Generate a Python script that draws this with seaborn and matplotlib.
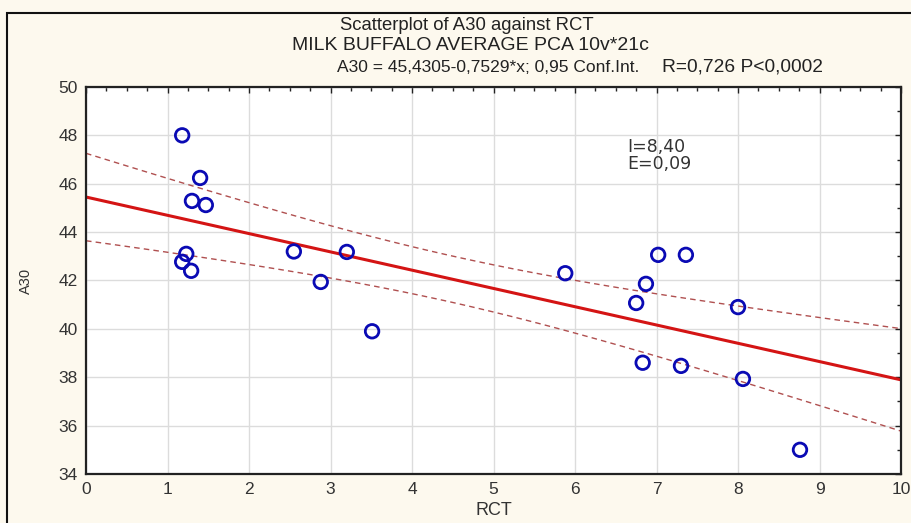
import numpy as np
import matplotlib
matplotlib.use("Agg")
from matplotlib import pyplot as plt
from matplotlib.patches import Rectangle
from matplotlib.ticker import MultipleLocator
import seaborn as sns

# values
rct = [1.18, 1.40, 1.30, 1.47, 1.23, 1.18, 1.29, 2.55, 2.88, 3.20, 3.51,
       5.88, 6.75, 6.87, 7.02, 7.36, 6.83, 7.30, 8.00, 8.06, 8.76]
a30 = [48.0, 46.24, 45.29, 45.12, 43.1, 42.77, 42.4, 43.2, 41.94, 43.18, 39.9,
       42.3, 41.07, 41.86, 43.06, 43.06, 38.6, 38.47, 40.9, 37.93, 35.0]

title_lines = ["Scatterplot of A30 against RCT",
               "MILK BUFFALO AVERAGE PCA 10v*21c"]
eq_text = "A30 = 45,4305-0,7529*x; 0,95 Conf.Int."
r_text = "R=0,726 P<0,0002"
note_text = "I=8,40\nE=0,09"

sns.set_style("white")
plt.rcParams['font.family'] = ['Liberation Sans', 'DejaVu Sans']

x = np.array(rct)
y = np.array(a30)
n = len(x)

# least squares fit and 95% confidence band for the mean
slope, intercept = np.polyfit(x, y, 1)
xs = np.linspace(0, 10, 101)
fit = intercept + slope * xs
resid = y - (intercept + slope * x)
s = np.sqrt(np.sum(resid ** 2) / (n - 2))
sxx = np.sum((x - x.mean()) ** 2)
t = 2.093
half = t * s * np.sqrt(1.0 / n + (xs - x.mean()) ** 2 / sxx)

bg = "#fdf9ee"
fig = plt.figure(figsize=(9.12, 5.23), dpi=100, facecolor=bg)
ax = fig.add_axes([0.0943, 0.0937, 0.8937, 0.74])
ax.set_facecolor("white")

# outer frame
fig.patches.append(Rectangle((7 / 912, -0.2), 1.2, 1.2 - 13 / 523,
                             transform=fig.transFigure, fill=False,
                             edgecolor="#111111", linewidth=1.5))

ax.grid(True, color="#dcdcdc", linewidth=1.0)
ax.set_axisbelow(True)

sns.lineplot(x=xs, y=fit + half, ax=ax, color="#b05050", linewidth=1.0,
             linestyle=(0, (4, 3)))
sns.lineplot(x=xs, y=fit - half, ax=ax, color="#b05050", linewidth=1.0,
             linestyle=(0, (4, 3)))
sns.lineplot(x=xs, y=fit, ax=ax, color="#d41414", linewidth=2.2)
sns.scatterplot(x=x, y=y, ax=ax, s=95, facecolors="none",
                edgecolor="#0a0ab4", linewidth=2.0, marker="o", zorder=5)

ax.set_xlim(0, 10)
ax.set_ylim(34, 50)
ax.xaxis.set_major_locator(MultipleLocator(1))
ax.xaxis.set_minor_locator(MultipleLocator(0.25))
ax.yaxis.set_major_locator(MultipleLocator(2))
ax.yaxis.set_minor_locator(MultipleLocator(1))
ax.tick_params(which="both", direction="in", top=True, right=True,
               color="#222222")
ax.tick_params(which="major", length=4, width=1, labelsize=12.5,
               labelcolor="#333333", pad=6)
ax.tick_params(which="minor", length=3, width=1)
for sp in ax.spines.values():
    sp.set_color("#222222")
    sp.set_linewidth(1.6)

ax.set_xlabel("RCT", fontsize=13, color="#333333")
ax.set_ylabel("A30", fontsize=10.5, color="#333333")
ax.xaxis.set_label_coords(0.5, -0.0956)
ax.xaxis.label.set_va("center")
ax.yaxis.set_label_coords(-0.0736, 0.5)
ax.yaxis.label.set_va("center")

fig.text(467 / 912, 1 - 25 / 523, title_lines[0], ha="center", va="center",
         fontsize=13.3, color="#222222")
fig.text(470 / 912, 1 - 46 / 523, title_lines[1], ha="center", va="center",
         fontsize=14, color="#222222")
fig.text(337 / 912, 1 - 67 / 523, eq_text, ha="left", va="center",
         fontsize=12.5, color="#222222")
fig.text(662 / 912, 1 - 67 / 523, r_text, ha="left", va="center",
         fontsize=13.8, color="#222222")
ax.text(6.64, 47.9, note_text, ha="left", va="top", fontsize=12.5,
        color="#333333", family=["DejaVu Sans"], linespacing=0.95)

fig.savefig("out.png", dpi=100, facecolor=bg)
